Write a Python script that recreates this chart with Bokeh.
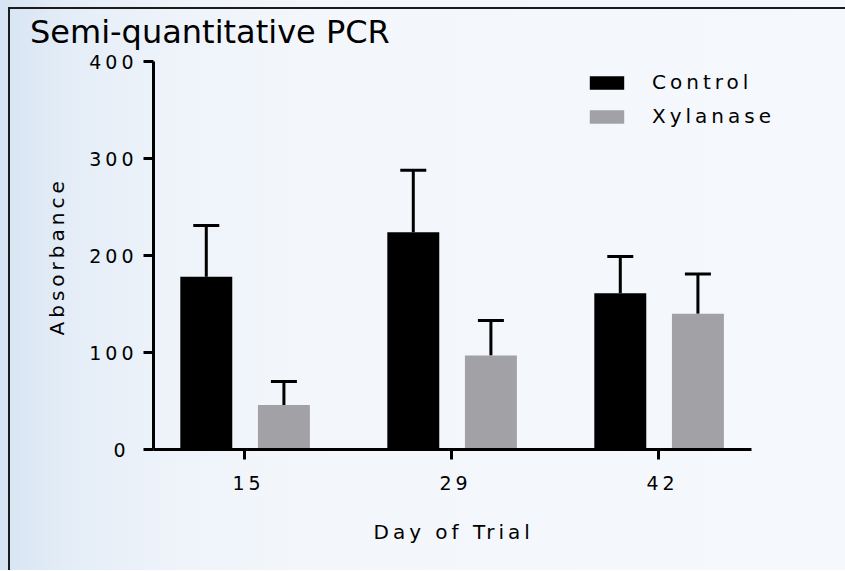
from bokeh.plotting import figure
from bokeh.models import (ColumnDataSource, Range1d, FixedTicker, Whisker, TeeHead,
                          Legend, LegendItem, Div, Title)
from bokeh.layouts import column
from bokeh.embed import file_html
from bokeh.resources import INLINE

# ---- data ----
days = ["15", "29", "42"]
control_mean = [178, 224, 161]
control_err = [53, 64, 38]
xylanase_mean = [46, 97, 140]
xylanase_err = [24, 36, 41]
y_ticks = [0, 100, 200, 300, 400]

idx = list(range(len(days)))
ctrl_x = [i - 0.185 for i in idx]
xyl_x = [i + 0.19 for i in idx]

FONT = "DejaVu Sans"
LS = 4  # letter spacing (px) used by the reference's axis texts

ctrl_src = ColumnDataSource(dict(x=ctrl_x, mean=control_mean,
                                 up=[m + e for m, e in zip(control_mean, control_err)]))
xyl_src = ColumnDataSource(dict(x=xyl_x, mean=xylanase_mean,
                                up=[m + e for m, e in zip(xylanase_mean, xylanase_err)]))

# the frame reaches further right than the x axis so that the legend is not clipped
x_axis_bounds = (-0.44, 2.45)
x_range = Range1d(-0.44, 2.8305)
y_range = Range1d(0, 400)
p = figure(width=845, height=520, x_range=x_range, y_range=y_range,
           output_backend="svg", toolbar_location=None,
           min_border_left=153, min_border_right=15, min_border_top=11, min_border_bottom=121)
p.background_fill_color = None
p.border_fill_color = None
p.outline_line_color = None
p.grid.visible = False
p.styles = {"letter-spacing": f"{LS}px"}

r1 = p.vbar(x="x", top="mean", width=0.251, source=ctrl_src, fill_color="black", line_color=None)
r2 = p.vbar(x="x", top="mean", width=0.251, source=xyl_src, fill_color="#a2a1a6", line_color=None)

for src in (ctrl_src, xyl_src):
    w = Whisker(base="x", lower="mean", upper="up", dimension="height", source=src,
                line_width=3, line_color="black",
                upper_head=TeeHead(size=26, line_width=3, line_color="black"), lower_head=None)
    p.add_layout(w)

for ax in (p.xaxis[0], p.yaxis[0]):
    ax.axis_line_width = 3
    ax.axis_line_color = "black"
    ax.major_tick_line_width = 3
    ax.major_tick_line_color = "black"
    ax.major_tick_out = 10
    ax.major_tick_in = 0
    ax.minor_tick_line_color = None
    ax.major_label_text_font = FONT
    ax.major_label_text_font_size = "19px"
    ax.major_label_text_color = "black"

p.xaxis.ticker = FixedTicker(ticks=idx)
p.xaxis.bounds = x_axis_bounds
p.xaxis.major_label_overrides = {i: d for i, d in zip(idx, days)}
p.xaxis.major_label_standoff = 16

p.yaxis.ticker = FixedTicker(ticks=y_ticks)
p.yaxis.major_label_standoff = 18

p.add_layout(Title(text="Day of Trial", align="left", offset=220, standoff=50,
                   text_font=FONT, text_font_size="20px", text_font_style="normal",
                   text_color="black"), "below")
p.add_layout(Title(text="Absorbance", align="left", offset=114, standoff=36,
                   text_font=FONT, text_font_size="20px", text_font_style="normal",
                   text_color="black"), "left")

legend = Legend(items=[LegendItem(label="Control", renderers=[r1]),
                       LegendItem(label="Xylanase", renderers=[r2])],
                location=(432, 321), glyph_width=43, glyph_height=17, label_height=17,
                spacing=10, padding=0, margin=0, border_line_color=None,
                background_fill_alpha=0, label_standoff=24,
                label_text_font=FONT, label_text_font_size="20px", label_text_color="black")
p.add_layout(legend)

title = Div(text='<div style="padding:8px 0 0 25px; font-family:\'DejaVu Sans\'; '
                 'font-size:32px; line-height:38px; color:black; white-space:nowrap">'
                 'Semi-quantitative PCR</div>',
            width=845, height=40)

layout = column(title, p, styles={
    "background": ("linear-gradient(#1c1c1c,#1c1c1c) 8px 7px / 100% 2px no-repeat, "
                   "linear-gradient(#1c1c1c,#1c1c1c) 8px 7px / 2px 100% no-repeat, "
                   "linear-gradient(to right, #d6e4f3 0%, #e4edf7 8%, #eef3fa 20%, "
                   "#f3f7fb 35%, #f5f8fc 100%)"),
})

open("out.html", "w").write(file_html(layout, INLINE))
